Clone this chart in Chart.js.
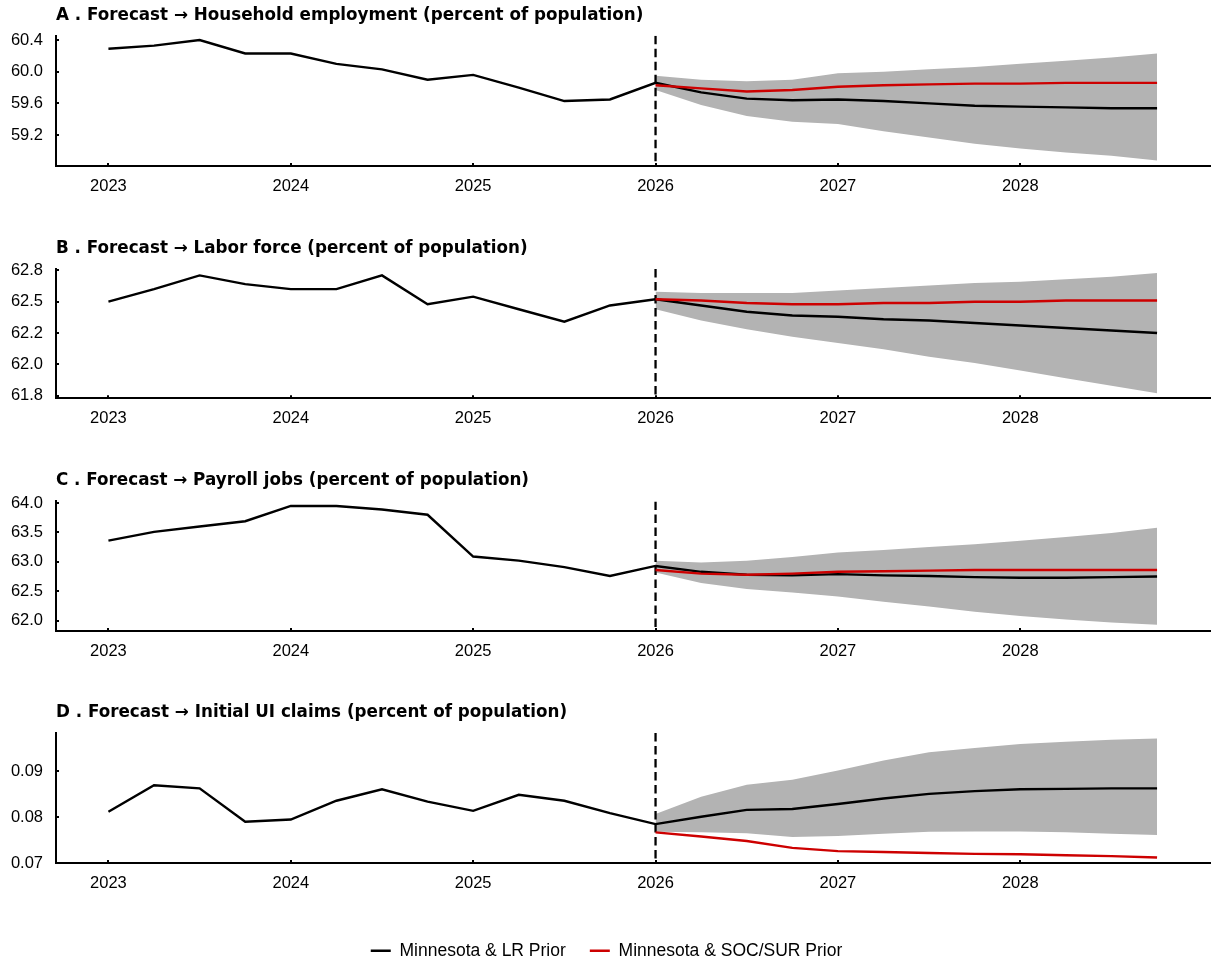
<!DOCTYPE html>
<html>
<head>
<meta charset="utf-8">
<title>Forecasts by prior</title>
<script src="https://cdn.jsdelivr.net/npm/chart.js@4.4.1/dist/chart.umd.min.js"></script>
<style>
  html, body { margin: 0; padding: 0; background: #ffffff; overflow: hidden; }
  body { width: 1213px; height: 961px; position: relative; }
  .panel { position: absolute; left: 0; width: 1213px; }
</style>
</head>
<body>
<div class="panel" id="boxA" style="top:0px;height:200px"><canvas id="chartA"></canvas></div>
<div class="panel" id="boxB" style="top:232px;height:200px"><canvas id="chartB"></canvas></div>
<div class="panel" id="boxC" style="top:464px;height:200px"><canvas id="chartC"></canvas></div>
<div class="panel" id="boxD" style="top:696px;height:200px"><canvas id="chartD"></canvas></div>
<div class="panel" id="boxLegend" style="top:918px;height:110px"><canvas id="chartLegend"></canvas></div>
<script>
// ---- time axis ----
const quarters = [2023.00, 2023.25, 2023.50, 2023.75, 2024.00, 2024.25, 2024.50, 2024.75,
                  2025.00, 2025.25, 2025.50, 2025.75, 2026.00, 2026.25, 2026.50, 2026.75,
                  2027.00, 2027.25, 2027.50, 2027.75, 2028.00, 2028.25, 2028.50, 2028.75];
const forecastQuarters = [2026.00, 2026.25, 2026.50, 2026.75, 2027.00, 2027.25,
                          2027.50, 2027.75, 2028.00, 2028.25, 2028.50, 2028.75];
const yearTicks = [2023, 2024, 2025, 2026, 2027, 2028];
const forecastStart = 2026;
const xRange = [2022.7125, 2029.0375];

const seriesNames = ['Minnesota & LR Prior', 'Minnesota & SOC/SUR Prior'];

// ---- A. Household employment ----
const titleA = 'A . Forecast \u2192 Household employment (percent of population)';
const lrA = [60.29, 60.33, 60.40, 60.23, 60.23, 60.10, 60.03, 59.90, 59.96, 59.80, 59.63, 59.65,
             59.86, 59.74, 59.66, 59.64, 59.65, 59.63, 59.60, 59.57, 59.56, 59.55, 59.54, 59.54];
const socA = [59.83, 59.79, 59.75, 59.77, 59.81, 59.83, 59.84, 59.85, 59.85, 59.86, 59.86, 59.86];
const bandHiA = [59.95, 59.90, 59.88, 59.90, 59.98, 60.00, 60.03, 60.06, 60.10, 60.14, 60.18, 60.23];
const bandLoA = [59.77, 59.58, 59.44, 59.37, 59.34, 59.25, 59.17, 59.09, 59.03, 58.98, 58.94, 58.88];
const yTicksA = [59.2, 59.6, 60.0, 60.4];
const yLabelsA = ['59.2', '59.6', '60.0', '60.4'];
const yRangeA = [58.81, 60.455];

// ---- B. Labor force ----
const titleB = 'B . Forecast \u2192 Labor force (percent of population)';
const lrB = [62.50, 62.60, 62.71, 62.64, 62.60, 62.60, 62.71, 62.48, 62.54, 62.44, 62.34, 62.47,
             62.52, 62.47, 62.42, 62.39, 62.38, 62.36, 62.35, 62.33, 62.31, 62.29, 62.27, 62.25];
const socB = [62.52, 62.51, 62.49, 62.48, 62.48, 62.49, 62.49, 62.50, 62.50, 62.51, 62.51, 62.51];
const bandHiB = [62.58, 62.57, 62.57, 62.57, 62.59, 62.61, 62.63, 62.65, 62.66, 62.68, 62.70, 62.73];
const bandLoB = [62.44, 62.35, 62.28, 62.22, 62.17, 62.12, 62.06, 62.01, 61.95, 61.89, 61.83, 61.77];
const yTicksB = [61.75, 62.00, 62.25, 62.50, 62.75];
const yLabelsB = ['61.8', '62.0', '62.2', '62.5', '62.8'];
const yRangeB = [61.729, 62.761];

// ---- C. Payroll jobs ----
const titleC = 'C . Forecast \u2192 Payroll jobs (percent of population)';
const lrC = [63.36, 63.51, 63.60, 63.69, 63.95, 63.95, 63.89, 63.80, 63.09, 63.02, 62.91, 62.76,
             62.93, 62.83, 62.78, 62.77, 62.79, 62.77, 62.76, 62.74, 62.73, 62.73, 62.74, 62.75];
const socC = [62.86, 62.80, 62.78, 62.80, 62.83, 62.84, 62.85, 62.86, 62.86, 62.86, 62.86, 62.86];
const bandHiC = [63.02, 62.99, 63.02, 63.08, 63.16, 63.20, 63.25, 63.30, 63.36, 63.42, 63.49, 63.58];
const bandLoC = [62.82, 62.64, 62.54, 62.48, 62.41, 62.32, 62.24, 62.15, 62.08, 62.02, 61.97, 61.93];
const yTicksC = [62.0, 62.5, 63.0, 63.5, 64.0];
const yLabelsC = ['62.0', '62.5', '63.0', '63.5', '64.0'];
const yRangeC = [61.824, 64.027];

// ---- D. Initial UI claims ----
const titleD = 'D . Forecast \u2192 Initial UI claims (percent of population)';
const lrD = [0.0812, 0.0870, 0.0863, 0.0790, 0.0795, 0.0836, 0.0861, 0.0834, 0.0814, 0.0849, 0.0836, 0.0809,
             0.0785, 0.0801, 0.0816, 0.0818, 0.0829, 0.0841, 0.0851, 0.0857, 0.0861, 0.0862, 0.0863, 0.0863];
const socD = [0.0767, 0.0758, 0.0748, 0.0733, 0.0726, 0.0724, 0.0722, 0.0720, 0.0719, 0.0717, 0.0715, 0.0712];
const bandHiD = [0.0807, 0.0845, 0.0871, 0.0882, 0.0902, 0.0924, 0.0942, 0.0951, 0.0960, 0.0965, 0.0969, 0.0972];
const bandLoD = [0.0768, 0.0767, 0.0765, 0.0757, 0.0759, 0.0764, 0.0768, 0.0769, 0.0769, 0.0767, 0.0764, 0.0761];
const yTicksD = [0.07, 0.08, 0.09];
const yLabelsD = ['0.07', '0.08', '0.09'];
const yRangeD = [0.0700, 0.0984];

// ---- styling ----
const SANS = "'Liberation Sans', Arial, Helvetica, sans-serif";
const TITLE_FONT = "'DejaVu Sans', 'Liberation Sans', Arial, sans-serif";
const INK = '#000000';
const LR_COLOR = '#000000';
const SOC_COLOR = '#cd0000';
const BAND_COLOR = '#b3b3b3';
const LINE_W = 2.4;
const AXIS_W = 2;

const zip = (xs, ys) => xs.map((x, i) => ({ x: x, y: ys[i] }));

// panel frame: title paddings and bottom padding so that the plot areas line up
const frames = {
  A: { padTop: 6.0, padBottom: 9.6, layoutBottom: 4.0 },
  B: { padTop: 6.6, padBottom: 10.3, layoutBottom: 3.7 },
  C: { padTop: 6.6, padBottom: 10.7, layoutBottom: 3.0 },
  D: { padTop: 6.6, padBottom: 10.3, layoutBottom: 3.0 }
};

function buildPanel(canvasId, key, title, lr, soc, hi, lo, yTicks, yLabels, yRange) {
  const f = frames[key];
  return new Chart(document.getElementById(canvasId), {
    type: 'line',
    data: {
      datasets: [
        { label: seriesNames[1], data: zip(forecastQuarters, soc), borderColor: SOC_COLOR,
          borderWidth: LINE_W, pointRadius: 0, fill: false, tension: 0, order: 0 },
        { label: seriesNames[0], data: zip(quarters, lr), borderColor: LR_COLOR,
          borderWidth: LINE_W, pointRadius: 0, fill: false, tension: 0, order: 1 },
        // vertical marker at the forecast origin, dashed from the top of the panel down
        { label: 'forecast start', data: [{ x: forecastStart, y: yRange[1] }, { x: forecastStart, y: yRange[0] }],
          borderColor: INK, borderWidth: 2.3, borderDash: [8.5, 4.5], pointRadius: 0, fill: false, order: 2 },
        { label: 'band upper', data: zip(forecastQuarters, hi), borderColor: 'rgba(0,0,0,0)',
          borderWidth: 1, pointRadius: 0, backgroundColor: BAND_COLOR, fill: '+1', tension: 0, order: 3 },
        { label: 'band lower', data: zip(forecastQuarters, lo), borderColor: 'rgba(0,0,0,0)',
          borderWidth: 1, pointRadius: 0, fill: false, tension: 0, order: 4 }
      ]
    },
    options: {
      animation: false,
      responsive: true,
      maintainAspectRatio: false,
      events: [],
      layout: { padding: { left: 0, right: 3.5, top: 0, bottom: f.layoutBottom } },
      scales: {
        x: {
          type: 'linear', min: xRange[0], max: xRange[1],
          afterBuildTicks: s => { s.ticks = yearTicks.map(v => ({ value: v })); },
          afterFit: s => { s.height = 30; },
          ticks: { font: { family: SANS, size: 16.5 }, color: INK, padding: 13.4, maxRotation: 0,
                   autoSkip: false, callback: v => String(v) },
          grid: { drawOnChartArea: false, drawTicks: true, tickLength: -3, color: INK, lineWidth: 2 },
          border: { display: true, color: INK, width: AXIS_W }
        },
        y: {
          type: 'linear', min: yRange[0], max: yRange[1],
          afterBuildTicks: s => { s.ticks = yTicks.map(v => ({ value: v })); },
          afterFit: s => { s.width = 56; },
          ticks: { font: { family: SANS, size: 16.5 }, color: INK, padding: 16, autoSkip: false,
                   callback: (v, i) => yLabels[i] },
          grid: { drawOnChartArea: false, drawTicks: true, tickLength: -3, color: INK, lineWidth: 2 },
          border: { display: true, color: INK, width: AXIS_W }
        }
      },
      plugins: {
        legend: { display: false },
        tooltip: { enabled: false },
        title: {
          display: true, text: title, align: 'start', fullSize: false, color: INK,
          font: { family: TITLE_FONT, size: 16.75, weight: 'bold', lineHeight: 1.2 },
          padding: { top: f.padTop, bottom: f.padBottom }
        }
      }
    }
  });
}

buildPanel('chartA', 'A', titleA, lrA, socA, bandHiA, bandLoA, yTicksA, yLabelsA, yRangeA);
buildPanel('chartB', 'B', titleB, lrB, socB, bandHiB, bandLoB, yTicksB, yLabelsB, yRangeB);
buildPanel('chartC', 'C', titleC, lrC, socC, bandHiC, bandLoC, yTicksC, yLabelsC, yRangeC);
buildPanel('chartD', 'D', titleD, lrD, socD, bandHiD, bandLoD, yTicksD, yLabelsD, yRangeD);

// shared key for the two priors
new Chart(document.getElementById('chartLegend'), {
  type: 'line',
  data: {
    datasets: [
      { label: seriesNames[0], data: [], borderColor: LR_COLOR, backgroundColor: LR_COLOR, borderWidth: 0 },
      { label: seriesNames[1], data: [], borderColor: SOC_COLOR, backgroundColor: SOC_COLOR, borderWidth: 0 }
    ]
  },
  options: {
    animation: false,
    responsive: true,
    maintainAspectRatio: false,
    events: [],
    layout: { padding: 0 },
    scales: { x: { display: false }, y: { display: false } },
    plugins: {
      tooltip: { enabled: false },
      legend: {
        display: true, position: 'top', align: 'center',
        labels: { font: { family: SANS, size: 17.5 }, color: INK, boxWidth: 20, boxHeight: 2.5, padding: 24 }
      }
    }
  }
});
</script>
</body>
</html>
